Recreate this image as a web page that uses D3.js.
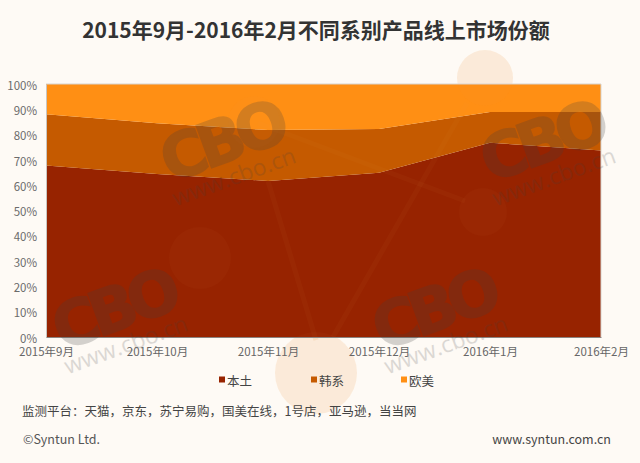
<!DOCTYPE html>
<html><head><meta charset="utf-8">
<script src="https://cdnjs.cloudflare.com/ajax/libs/d3/7.8.5/d3.min.js"></script>
<style>
html,body{margin:0;padding:0;background:#fefaf5;}
svg{display:block;}
text{font-family:"Noto Sans CJK SC","Noto Sans",sans-serif;}
</style></head><body>
<svg id="c" width="640" height="463"></svg>
<script>
const categories = ["2015年9月","2015年10月","2015年11月","2015年12月","2016年1月","2016年2月"];
const local  = [67.8,64.4,61.7,64.9,76.8,73.7];
const korean = [20.2,20.1,20.1,17.3,12.1,15.2];
const western= [12.0,15.5,18.2,17.8,11.1,11.1];
const seriesNames = ["本土","韩系","欧美"];
const seriesColors = ["#972300","#c55a00","#ff8f14"];
const yTicks = [0,10,20,30,40,50,60,70,80,90,100];
const titleText = "2015年9月-2016年2月不同系别产品线上市场份额";
const noteText = "监测平台：天猫，京东，苏宁易购，国美在线，1号店，亚马逊，当当网";

const svg = d3.select("#c");
const m={l:46,r:601,t:84,b:337};
const x=d3.scalePoint().domain(categories).range([m.l,m.r]);
const y=d3.scaleLinear().domain([0,100]).range([m.b,m.t]);

function decoLayer(g,col,op){
  g.selectAll("circle").data([[200,258,31],[483,212,24],[485,78,28],[316,373,41],[254,122,26]]).join("circle")
   .attr("cx",d=>d[0]).attr("cy",d=>d[1]).attr("r",d=>d[2]).attr("fill",col).attr("opacity",op);
  g.selectAll("line").data([[268,181,316,340],[467,103,333,337],[258,123,465,201]]).join("line")
   .attr("x1",d=>d[0]).attr("y1",d=>d[1]).attr("x2",d=>d[2]).attr("y2",d=>d[3])
   .attr("stroke",col).attr("stroke-width",5).attr("opacity",op);
}
decoLayer(svg.append("g"),"#f2a050",0.13);

const rows=categories.map((c,i)=>({c,"本土":local[i],"韩系":korean[i],"欧美":western[i]}));
const stacked=d3.stack().keys(seriesNames)(rows);
const area=d3.area().x(d=>x(d.data.c)).y0(d=>y(d[0])).y1(d=>y(d[1]));
svg.append("g").selectAll("path").data(stacked).join("path")
  .attr("d",area).attr("fill",(d,i)=>seriesColors[i]);

decoLayer(svg.append("g"),"#f2a050",0.04);

const ax=svg.append("g").attr("transform",`translate(${m.l},0)`)
  .call(d3.axisLeft(y).tickValues(yTicks).tickFormat(d=>d+"%").tickSize(0).tickPadding(9));
ax.select(".domain").attr("stroke","#c9c5c0");
ax.selectAll("text").attr("font-size",11.5).attr("fill","#6b6b6b").attr("dy","0.45em").style("font-family",'"Noto Sans CJK SC"');
const bx=svg.append("g").attr("transform",`translate(0,${m.b})`)
  .call(d3.axisBottom(x).tickSize(0).tickPadding(10.5));
bx.select(".domain").attr("stroke","#8a8480").attr("stroke-width",1);
bx.selectAll("text").attr("font-size",11.5).attr("fill","#666").style("font-family",'"Noto Sans CJK SC"');
svg.append("line").attr("x1",m.l).attr("x2",m.r).attr("y1",m.t).attr("y2",m.t).attr("stroke","#d8d4cf");
svg.append("line").attr("x1",m.r).attr("x2",m.r).attr("y1",m.t).attr("y2",m.b).attr("stroke","#d8d4cf");

const marks=[[221,141],[541,141],[113,309],[433,309]];
const wm=svg.append("g").selectAll("g").data(marks).join("g")
  .attr("transform",d=>`translate(${d[0]},${d[1]}) rotate(-20)`);
wm.append("text").text("CBO").attr("text-anchor","middle").attr("y",22)
  .attr("font-size",62).attr("font-weight",700).attr("letter-spacing",-7)
  .attr("fill","#404040").attr("stroke","#404040").attr("stroke-width",1.5).attr("opacity",0.22)
  .style("font-family","'DejaVu Sans'");
wm.append("text").text("www.cbo.cn").attr("text-anchor","middle").attr("x",0).attr("y",46)
  .attr("font-size",23).attr("fill","#404040").attr("opacity",0.18)
  .style("font-family","'Open Sans'");

svg.append("text").text(titleText).attr("x",316).attr("y",38).attr("text-anchor","middle")
  .attr("font-size",21).attr("font-weight",700).attr("fill","#333");

const legX=[218,310,400];
const lg=svg.append("g").selectAll("g").data(seriesNames).join("g")
  .attr("transform",(d,i)=>`translate(${legX[i]},381)`);
lg.append("rect").attr("x",1).attr("y",-4.5).attr("width",6).attr("height",6).attr("fill",(d,i)=>seriesColors[i]);
lg.append("text").text(d=>d).attr("x",9).attr("y",5).attr("font-size",12.5).attr("fill","#444");

svg.append("text").text(noteText).attr("x",22).attr("y",416).attr("font-size",12.5).attr("fill","#444");
svg.append("text").text("©Syntun Ltd.").attr("x",23).attr("y",444).attr("font-size",12.5).attr("fill","#555");
svg.append("text").text("www.syntun.com.cn").attr("x",611).attr("y",444).attr("text-anchor","end").attr("font-size",12.5).attr("fill","#444");
</script></body></html>
